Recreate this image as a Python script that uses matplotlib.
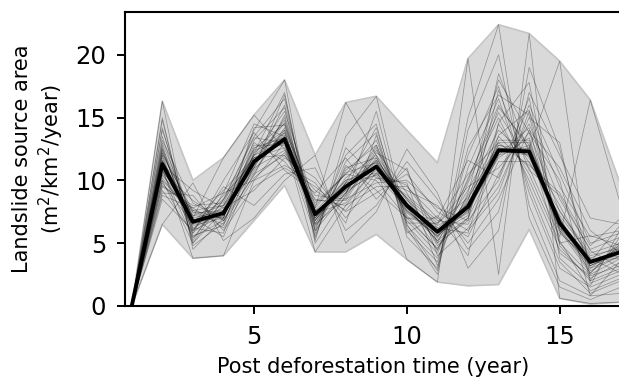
import numpy as np
import matplotlib.pyplot as plt

# post deforestation year
years = list(range(1, 18))

# ensemble mean (thick black line)
mean_area = [0, 11.3, 6.7, 7.4, 11.5, 13.3, 7.3, 9.5, 11.1, 8.0, 5.9, 7.9, 12.4, 12.3, 6.6, 3.5, 4.3]

# envelope of all runs
env_upper = [0, 16.3, 10.0, 11.8, 15.2, 18.0, 12.0, 16.2, 16.7, 14.0, 11.4, 19.7, 22.4, 21.7, 19.5, 16.4, 9.6]
env_lower = [0, 6.5, 3.8, 4.0, 6.8, 9.6, 4.3, 4.3, 5.7, 3.7, 1.9, 1.6, 1.7, 6.1, 0.6, 0.15, 0.3]

# individual runs (thin lines)
runs = [
    [0, 11.5, 6.5, 7.2, 11.8, 13.0, 7.0, 9.8, 11.5, 7.6, 5.5, 8.2, 12.8, 12.0, 6.0, 3.2, 4.5],
    [0, 12.5, 5.8, 8.0, 12.5, 14.5, 6.5, 8.6, 12.4, 9.0, 4.8, 7.0, 14.5, 10.5, 5.0, 2.5, 3.8],
    [0, 10.0, 7.5, 6.5, 10.5, 12.0, 8.2, 10.5, 10.0, 7.0, 6.5, 9.5, 11.0, 13.8, 7.5, 4.2, 5.0],
    [0, 14.8, 5.0, 8.5, 13.5, 16.5, 5.8, 11.5, 13.8, 6.0, 3.5, 12.0, 17.5, 9.0, 3.0, 1.5, 2.5],
    [0, 9.0, 8.8, 6.0, 9.5, 11.0, 9.5, 7.5, 9.0, 10.5, 7.5, 6.0, 9.0, 15.5, 9.5, 5.5, 6.0],
    [0, 16.3, 4.5, 7.0, 14.0, 18.0, 5.2, 13.5, 16.7, 6.5, 2.8, 15.0, 22.4, 7.0, 1.5, 0.5, 1.5],
    [0, 8.5, 6.0, 9.5, 8.0, 10.5, 11.0, 6.0, 8.0, 11.5, 8.5, 4.5, 7.5, 17.0, 12.0, 7.0, 6.5],
    [0, 6.5, 9.8, 5.2, 7.0, 10.0, 12.0, 5.0, 7.5, 12.5, 9.0, 3.0, 6.0, 19.0, 12.5, 3.0, 4.0],
    [0, 11.0, 3.8, 4.0, 10.0, 13.0, 4.3, 8.0, 11.0, 3.7, 1.9, 19.7, 2.5, 21.7, 0.6, 0.2, 0.3],
    [0, 13.0, 7.0, 11.8, 15.2, 12.5, 7.8, 16.2, 12.0, 8.5, 5.0, 10.0, 16.0, 12.5, 19.5, 2.0, 3.0],
    [0, 10.5, 6.8, 7.8, 12.0, 13.8, 7.5, 9.0, 10.8, 8.2, 6.0, 7.5, 12.0, 12.8, 6.8, 3.8, 4.8],
    [0, 12.0, 5.5, 6.8, 11.0, 15.0, 6.8, 10.2, 12.0, 7.2, 4.5, 8.8, 13.5, 11.0, 5.5, 16.4, 8.0],
    [0, 9.5, 8.0, 8.2, 13.0, 11.5, 8.5, 8.0, 9.5, 9.5, 7.0, 5.5, 10.5, 14.5, 8.5, 4.5, 5.5],
    [0, 11.8, 6.2, 7.5, 10.8, 14.0, 6.2, 11.0, 11.8, 7.8, 5.2, 8.5, 13.0, 13.0, 6.2, 2.8, 4.0],
    [0, 10.8, 7.2, 7.0, 12.8, 12.8, 7.2, 9.2, 10.5, 8.8, 6.8, 6.5, 11.5, 11.5, 7.2, 4.0, 4.6],
    [0, 13.5, 6.0, 8.8, 11.5, 14.8, 6.5, 10.8, 12.8, 6.8, 4.2, 9.8, 15.0, 10.0, 4.5, 2.2, 3.5],
    [0, 8.8, 7.8, 6.2, 10.2, 12.2, 8.8, 8.5, 9.8, 10.0, 7.8, 6.8, 10.0, 16.0, 10.5, 5.0, 5.8],
    [0, 12.8, 5.2, 9.0, 14.5, 13.5, 6.0, 12.0, 14.5, 5.5, 3.0, 11.0, 16.5, 9.5, 3.5, 1.0, 2.0],
    [0, 10.2, 7.0, 5.5, 11.2, 16.0, 7.0, 9.5, 11.2, 7.5, 5.8, 7.2, 18.5, 12.2, 8.0, 3.5, 6.5],
    [0, 11.2, 9.2, 7.8, 9.2, 11.8, 10.2, 7.0, 10.2, 9.2, 8.0, 5.0, 8.5, 14.0, 11.0, 6.0, 4.2],
    [0, 15.0, 4.8, 6.6, 12.2, 17.0, 5.0, 8.8, 15.5, 6.2, 2.5, 14.0, 20.0, 8.0, 2.0, 0.8, 1.0],
    [0, 9.8, 6.5, 8.5, 11.8, 12.6, 7.6, 10.0, 10.6, 8.0, 6.2, 8.0, 12.5, 12.5, 6.5, 3.2, 4.4],
    [0, 11.6, 6.0, 7.2, 12.4, 13.2, 6.6, 9.6, 11.4, 7.4, 5.6, 7.8, 11.8, 13.4, 5.8, 3.6, 3.8],
    [0, 12.2, 7.4, 7.6, 10.6, 14.2, 7.4, 8.2, 11.0, 8.6, 5.4, 9.2, 14.0, 11.8, 7.0, 2.6, 5.2],
    [0, 9.2, 5.8, 10.0, 13.8, 10.8, 9.0, 11.8, 8.5, 11.0, 4.0, 6.2, 9.5, 15.0, 13.0, 1.8, 2.8],
    [0, 10.6, 8.4, 6.8, 11.6, 13.6, 6.4, 9.0, 12.6, 6.6, 6.6, 10.5, 13.0, 11.2, 9.0, 4.8, 7.0],
    [0, 14.0, 6.6, 7.4, 12.0, 15.5, 8.0, 10.5, 13.2, 7.0, 4.6, 8.4, 15.8, 12.8, 4.2, 2.4, 3.2],
    [0, 10.4, 7.6, 8.0, 11.0, 12.4, 7.2, 9.4, 11.6, 8.4, 6.4, 7.6, 12.2, 12.6, 6.6, 3.4, 4.6],
    [0, 11.4, 6.4, 7.0, 12.6, 13.4, 6.8, 9.8, 10.4, 7.8, 5.8, 8.2, 12.6, 12.2, 6.2, 3.6, 4.0],
    [0, 12.6, 7.0, 7.6, 11.4, 14.6, 7.6, 8.8, 11.8, 8.0, 6.0, 7.4, 13.2, 13.2, 6.4, 3.0, 4.8],
    [0, 14.2, 5.6, 6.4, 13.2, 15.8, 5.4, 12.6, 10.2, 9.8, 3.2, 12.6, 16.8, 15.2, 5.2, 1.2, 2.2],
    [0, 9.6, 7.8, 9.0, 10.0, 11.2, 9.8, 6.6, 13.6, 5.8, 7.2, 4.0, 14.6, 17.8, 4.8, 2.0, 5.6],
    [0, 12.4, 6.2, 5.8, 12.2, 14.0, 8.4, 8.4, 12.2, 10.8, 5.0, 6.8, 17.2, 10.8, 8.8, 4.4, 3.0],
    [0, 10.8, 5.4, 8.4, 13.4, 13.0, 5.6, 11.2, 9.2, 7.0, 7.0, 11.6, 10.2, 16.6, 3.8, 1.6, 6.2],
    [0, 13.2, 8.2, 6.8, 10.4, 15.2, 6.8, 9.8, 14.2, 6.4, 3.8, 9.0, 18.0, 13.8, 10.0, 0.8, 3.6],
    [0, 11.0, 6.6, 9.2, 11.8, 12.0, 9.2, 7.6, 10.6, 9.6, 6.2, 5.8, 13.6, 15.6, 6.0, 2.6, 5.0],
    [0, 12.0, 7.6, 7.0, 14.2, 14.4, 7.8, 10.6, 11.4, 8.2, 4.4, 10.2, 15.4, 11.4, 7.6, 3.8, 2.6],
    [0, 10.0, 5.0, 7.6, 11.0, 16.8, 6.0, 9.0, 12.8, 7.8, 5.2, 7.0, 12.0, 14.2, 5.0, 5.6, 4.8],
    [0, 11.6, 7.2, 8.0, 12.0, 13.0, 7.0, 10.0, 11.0, 8.6, 6.6, 8.6, 12.8, 12.4, 7.0, 3.2, 4.2],
    [0, 12.2, 6.8, 7.2, 11.2, 13.8, 7.4, 9.2, 11.6, 7.6, 5.6, 7.6, 12.4, 12.0, 6.6, 3.4, 4.6],
]

fig = plt.figure(figsize=(6.19, 3.80), dpi=100)
ax = fig.add_axes([0.202, 0.195, 0.80, 0.773])

ax.fill_between(years, env_lower, env_upper, color="#d9d9d9", lw=0, zorder=1)
ax.plot(years, env_upper, color="#c4c4c4", lw=1.2, zorder=1.5)
ax.plot(years, env_lower, color="#c4c4c4", lw=1.2, zorder=1.5)

for r in runs:
    ax.plot(years, r, color="black", lw=0.5, alpha=0.35, zorder=2)

ax.plot(years, mean_area, color="black", lw=2.8, zorder=3)

ax.set_xlim(0.78, 16.98)
ax.set_ylim(0, 23.4)
ax.set_xticks([5, 10, 15])
ax.set_yticks([0, 5, 10, 15, 20])
ax.tick_params(labelsize=17.5, length=6, width=1.4, pad=7.5)
for s in ["left", "top", "bottom"]:
    ax.spines[s].set_linewidth(1.5)
ax.spines["right"].set_visible(False)

ax.set_xlabel("Post deforestation time (year)", fontsize=15, labelpad=6)
ax.set_ylabel("Landslide source area\n(m$^2$/km$^2$/year)", fontsize=15, labelpad=7)

fig.savefig("out.png", dpi=100)
